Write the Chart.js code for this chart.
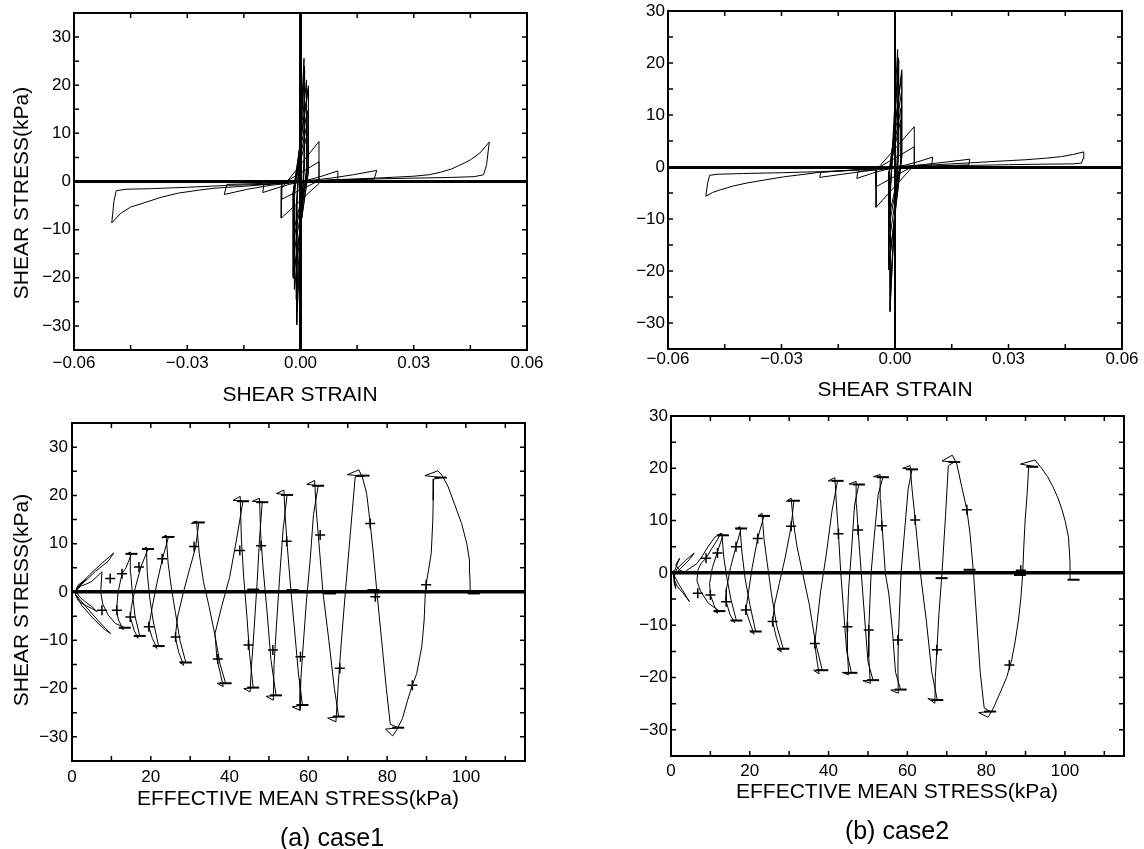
<!DOCTYPE html>
<html><head><meta charset="utf-8">
<script src="https://cdn.jsdelivr.net/npm/chart.js@4.4.1/dist/chart.umd.min.js"></script>
<style>
html,body{margin:0;padding:0;background:#fff;}
body{width:1144px;height:849px;position:relative;overflow:hidden;font-family:"Liberation Sans",Arial,sans-serif;color:#000;}
canvas{position:absolute;}
.t{position:absolute;white-space:nowrap;transform:translate(-50%,-50%);font-size:21px;line-height:1;}
.ty{transform:translate(-50%,-50%) rotate(-90deg);}
.cap{font-size:25px;}
</style></head><body>
<canvas id="c1" width="572" height="440" style="left:0;top:-20px"></canvas>
<canvas id="c2" width="572" height="440" style="left:572px;top:-20px"></canvas>
<canvas id="c3" width="572" height="449" style="left:0;top:400px"></canvas>
<canvas id="c4" width="572" height="449" style="left:572px;top:400px"></canvas>
<div class="t" style="left:300px;top:393px">SHEAR STRAIN</div>
<div class="t" style="left:895px;top:388px">SHEAR STRAIN</div>
<div class="t" style="left:298px;top:797px">EFFECTIVE MEAN STRESS(kPa)</div>
<div class="t" style="left:897px;top:790px">EFFECTIVE MEAN STRESS(kPa)</div>
<div class="t ty" style="left:20px;top:193px">SHEAR STRESS(kPa)</div>
<div class="t ty" style="left:20px;top:600px">SHEAR STRESS(kPa)</div>
<div class="t cap" style="left:332px;top:837px">(a) case1</div>
<div class="t cap" style="left:897px;top:830px">(b) case2</div>
<script>
// ---------- tick labels ----------
const STRAIN_TICKS = [-0.06, -0.03, 0, 0.03, 0.06];
const STRAIN_MARKS = [-0.045, -0.03, -0.015, 0, 0.015, 0.03, 0.045];
const P_TICKS = [0, 20, 40, 60, 80, 100];
const P_MARKS = [10, 20, 30, 40, 50, 60, 70, 80, 90, 100, 110];
const TAU_TICKS = [-30, -20, -10, 0, 10, 20, 30];
const TAU_MARKS = [-30, -25, -20, -15, -10, -5, 0, 5, 10, 15, 20, 25, 30];

// ---------- case 1 : shear strain vs shear stress ----------
const SS1_A1 = [[0.00093,25.6],[-0.0010,-6.0],[-0.0010,-29.8],[0.00093,5.0],[0.00093,25.6]];
const SS1_A2 = [[0.0010,24.0],[-0.0010,-5.0],[-0.0010,-26.9],[0.0010,4.0],[0.0010,24.0]];
const SS1_A3 = [[0.0011,23.1],[-0.0011,-5.0],[-0.0011,-24.5],[0.0011,4.0],[0.0011,23.1]];
const SS1_B1 = [[0.0016,21.1],[-0.0016,-3.0],[-0.0016,-22.4],[0.0016,3.0],[0.0016,21.1]];
const SS1_B2 = [[0.0021,19.9],[-0.0019,-2.4],[-0.0019,-20.1],[0.0021,2.3],[0.0021,19.9]];
const SS1_B3 = [[0.0021,19.4],[-0.0019,-2.0],[-0.0019,-19.6],[0.0021,2.0],[0.0021,19.4]];
const SS1_C1 = [[0.0018,14.7],[-0.0018,-1.5],[-0.0018,-15.2],[0.0018,1.5],[0.0018,14.7]];
const SS1_C2 = [[0.0017,11.8],[-0.0017,-1.2],[-0.0017,-11.7],[0.0017,1.2],[0.0017,11.8]];
const SS1_C3 = [[0.0016,9.3],[-0.0016,-0.8],[-0.0016,-9.6],[0.0016,0.8],[0.0016,9.3]];
const SS1_D1 = [[0.0049,8.3],[-0.0050,-1.4],[-0.0051,-7.6],[0.0049,-0.4],[0.0049,8.3]];
const SS1_D2 = [[0.0049,4.1],[-0.0050,-0.6],[-0.0050,-3.7],[0.0049,0.2],[0.0049,4.1]];
const SS1_E = [[0.0099,2.2],[0.006,1.2],[0.003,0.5],[0.0,0.0],[-0.006,-0.4],[-0.0097,-0.6],[-0.0100,-2.3],[-0.006,-1.3],[-0.003,-0.6],[0.0,-0.1],[0.006,0.2],[0.0097,0.4],[0.0099,2.2]];
const SS1_F = [[0.0202,2.3],[0.014,1.4],[0.008,0.7],[0.0,0.0],[-0.010,-0.4],[-0.0195,-0.6],[-0.0202,-2.7],[-0.014,-1.6],[-0.008,-0.8],[0.0,-0.1],[0.010,0.3],[0.0195,0.5],[0.0202,2.3]];
const SS1_G = [[0.0,0.1],[0.01,0.35],[0.02,0.55],[0.03,0.7],[0.04,0.85],[0.046,1.0],[0.0485,1.4],[0.0493,3.5],[0.0500,8.2],[0.0475,5.9],[0.045,4.5],[0.0433,3.8],[0.040,2.6],[0.037,1.9],[0.034,1.4],[0.030,1.1],[0.025,0.9],[0.020,0.7],[0.010,0.4],[0.0,-0.1],[-0.010,-0.6],[-0.019,-0.8],[-0.030,-1.2],[-0.040,-1.5],[-0.046,-1.6],[-0.0488,-1.9],[-0.0494,-4.0],[-0.0500,-8.6],[-0.0476,-6.6],[-0.045,-5.3],[-0.0417,-4.5],[-0.037,-3.3],[-0.0323,-2.4],[-0.027,-1.8],[-0.0229,-1.4],[-0.0134,-0.9],[-0.006,-0.4],[0.0,0.1]];

// ---------- case 2 : shear strain vs shear stress ----------
const SS2_A1 = [[0.0007,22.6],[-0.0013,-5.0],[-0.0013,-27.8],[0.0007,4.0],[0.0007,22.6]];
const SS2_A2 = [[0.0009,21.0],[-0.0012,-4.5],[-0.0012,-25.0],[0.0009,3.5],[0.0009,21.0]];
const SS2_A3 = [[0.0010,20.5],[-0.0012,-4.0],[-0.0012,-23.0],[0.0010,3.0],[0.0010,20.5]];
const SS2_B1 = [[0.0018,18.7],[-0.0017,-2.2],[-0.0017,-19.8],[0.0018,2.0],[0.0018,18.7]];
const SS2_B2 = [[0.0018,18.0],[-0.0017,-2.0],[-0.0017,-19.0],[0.0018,2.0],[0.0018,18.0]];
const SS2_C1 = [[0.0017,14.3],[-0.0017,-1.5],[-0.0017,-15.1],[0.0017,1.5],[0.0017,14.3]];
const SS2_C2 = [[0.0016,11.4],[-0.0016,-1.2],[-0.0016,-11.5],[0.0016,1.2],[0.0016,11.4]];
const SS2_C3 = [[0.0015,9.0],[-0.0015,-0.8],[-0.0015,-9.3],[0.0015,0.8],[0.0015,9.0]];
const SS2_D1 = [[0.0051,7.75],[-0.0050,-0.6],[-0.0050,-7.75],[0.0051,0.4],[0.0051,7.75]];
const SS2_D2 = [[0.0051,3.9],[-0.0050,-0.4],[-0.0050,-3.8],[0.0051,0.3],[0.0051,3.9]];
const SS2_E = [[0.00995,1.9],[0.006,1.0],[0.003,0.4],[0.0,0.0],[-0.006,-0.5],[-0.0098,-0.9],[-0.0101,-2.2],[-0.006,-1.2],[-0.003,-0.6],[0.0,-0.1],[0.006,0.2],[0.0097,0.4],[0.00995,1.9]];
const SS2_F = [[0.0198,1.5],[0.014,1.0],[0.008,0.5],[0.0,0.0],[-0.010,-0.6],[-0.0196,-1.0],[-0.0199,-2.0],[-0.014,-1.4],[-0.008,-0.8],[0.0,-0.2],[0.010,0.2],[0.0195,0.4],[0.0198,1.5]];
const SS2_G = [[0.0,0.0],[0.01,0.15],[0.02,0.3],[0.03,0.45],[0.04,0.55],[0.047,0.6],[0.0493,0.75],[0.0497,1.6],[0.0499,2.9],[0.047,2.4],[0.044,2.0],[0.040,1.7],[0.0346,1.4],[0.027,1.1],[0.0199,0.8],[0.010,0.4],[0.0,0.0],[-0.010,-0.6],[-0.020,-0.9],[-0.030,-1.1],[-0.040,-1.25],[-0.047,-1.4],[-0.049,-1.6],[-0.0495,-3.0],[-0.0500,-5.6],[-0.0482,-4.9],[-0.0462,-4.4],[-0.043,-3.7],[-0.0393,-3.1],[-0.0345,-2.5],[-0.0295,-1.9],[-0.0196,-1.0],[-0.010,-0.5],[0.0,0.0]];

// ---------- case 1 : effective stress path ----------
const SP1_PATH = [[101.1,0.0],[101.0,3.5],[100.9,6.6],[100.2,10.1],[98.9,14.2],[97.2,18.0],[95.5,21.8],[93.9,24.2],[92.9,25.1],[89.6,24.1],[93.6,23.7],
[91.8,23.4],[91.7,19.0],[91.6,14.9],[91.2,8.0],[90.1,2.5],[89.7,0.0],[89.4,-5.8],[88.8,-11.3],[87.5,-16.9],[86.4,-19.3],[85.2,-22.4],[83.9,-26.2],[82.4,-28.6],[81.4,-29.8],[79.6,-28.4],[82.8,-28.1],
[80.8,-27.4],[79.8,-20.0],[78.6,-10.0],[77.4,0.0],[76.5,8.0],[75.7,14.2],[74.8,20.4],[73.7,23.8],[72.8,25.3],[69.9,24.3],[74.0,24.0],
[71.9,23.9],[70.7,12.5],[69.5,1.0],[68.4,-10.0],[67.6,-19.0],[67.0,-26.9],[64.9,-26.1],[67.7,-25.8],
[66.6,-20.0],[65.2,-10.0],[63.7,0.0],[62.7,10.0],[62.0,17.0],[61.6,23.1],[59.6,22.3],[62.5,22.0],
[61.3,16.0],[60.5,7.0],[59.5,-2.0],[58.7,-11.0],[58.1,-18.0],[57.9,-24.5],[55.9,-23.8],[58.5,-23.4],
[57.5,-17.0],[56.4,-7.0],[55.5,1.0],[54.6,10.0],[54.1,16.0],[53.8,21.1],[51.9,20.4],[54.6,20.1],
[53.6,13.0],[52.7,3.0],[51.9,-7.0],[51.3,-15.0],[51.1,-22.4],[49.3,-21.6],[51.8,-21.4],
[50.5,-14.0],[49.5,-4.0],[48.5,5.0],[47.9,12.0],[47.6,19.4],[45.8,18.8],[48.3,18.6],
[47.6,11.0],[47.0,2.0],[46.2,-8.0],[45.6,-15.0],[45.2,-20.7],[43.6,-20.0],[46.0,-19.8],
[45.1,-13.0],[44.4,-5.0],[43.6,3.0],[43.0,11.0],[42.7,19.8],[40.9,19.0],[43.4,18.8],
[41.8,11.0],[40.0,3.0],[38.0,-3.0],[36.3,-8.6],[36.8,-13.9],[37.7,-17.0],[38.4,-19.6],[36.8,-18.9],[39.0,-18.9],
[37.6,-15.0],[36.3,-9.0],[34.8,-3.0],[33.4,2.0],[32.3,8.0],[31.6,14.7],[30.3,14.2],[32.2,14.4],
[31.4,9.3],[29.6,4.0],[28.3,0.0],[26.8,-5.2],[26.2,-9.3],[27.1,-12.5],[28.4,-15.2],[27.3,-14.5],[28.9,-14.6],
[27.4,-10.0],[26.2,-4.0],[25.2,1.0],[24.4,6.0],[23.9,11.8],[22.8,11.2],[24.5,11.4],
[23.0,7.0],[21.6,2.0],[20.4,-3.0],[19.5,-7.2],[20.4,-9.6],[21.6,-11.7],[20.6,-11.0],[22.0,-11.2],
[20.6,-6.0],[19.7,-1.0],[19.1,4.0],[18.9,9.3],[18.0,8.8],[19.3,8.9],
[17.5,5.2],[16.1,1.0],[15.1,-3.0],[14.8,-5.2],[15.8,-8.0],[16.8,-9.6],[16.0,-9.0],[17.2,-9.1],
[16.0,-5.0],[15.3,0.0],[14.9,4.0],[14.8,8.3],[14.0,7.9],[15.1,7.9],
[13.7,5.0],[12.7,3.8],[11.7,0.0],[11.3,-3.8],[11.8,-5.8],[13.0,-7.8],[12.2,-7.3],[13.4,-7.4],
[11.0,-6.5],[9.2,-4.8],[7.8,-2.5],[7.3,0.0],[7.6,4.2],[6.5,3.3],[5.0,2.2],[3.5,1.6],[2.2,1.2],[1.2,0.4],[0.9,-0.6],[1.6,-1.8],[3.0,-2.6],[5.0,-3.4],[6.4,-4.1],[5.0,-3.0],[3.2,-1.9],[1.8,-0.9],[1.0,0.2],[1.5,1.4],[2.8,2.2],[3.6,2.6],[2.2,1.6],[1.0,0.3],
[1.3,0.9],[4.5,3.6],[7.5,5.9],[10.6,8.1],[9.2,6.4],[6.0,4.3],[3.0,2.0],[1.2,0.6],[0.9,-0.5],[3.5,-3.0],[6.6,-5.9],[9.8,-8.6],[8.5,-7.9],[5.5,-5.6],[2.5,-2.8],[1.0,-0.6]];
const SP1_CROSS = [[75.7,14.2],[86.4,-19.3],[68.0,-15.8],[63.0,11.8],[58.0,-13.4],[54.5,10.5],[51.0,-12.0],[48.0,9.6],[44.8,-11.0],[42.6,8.6],[37.0,-13.9],[31.0,9.4],[26.3,-9.3],[22.9,6.9],[19.5,-7.2],[17.0,5.2],[14.8,-5.2],[12.7,3.8],[11.4,-3.8],[9.7,2.8],[7.6,-3.8],[89.9,1.5],[77.0,-1.0]];
const SP1_BAR = [[93.6,23.7],[74.0,24.1],[62.5,22.0],[54.6,20.1],[48.3,18.6],[43.4,18.8],[32.2,14.4],[24.5,11.4],[19.3,8.9],[15.1,7.9],[82.8,-28.1],[67.7,-25.8],[58.5,-23.4],[51.8,-21.4],[46.0,-19.8],[39.0,-18.9],[28.9,-14.6],[22.0,-11.2],[17.2,-9.1],[13.4,-7.4],[102.0,-0.3],[76.5,0.4],[65.5,-0.3],[56.0,0.4],[46.0,0.5]];

// ---------- case 2 : effective stress path ----------
const SP2_PATH = [[101.3,-1.3],[101.3,2.0],[100.9,6.9],[100.1,9.8],[99.3,12.0],[98.3,14.2],[97.0,16.4],[95.6,18.4],[94.1,20.0],[92.4,21.6],[88.7,20.8],[92.7,20.3],
[90.8,20.3],[90.4,15.0],[89.9,10.1],[89.5,4.0],[89.3,0.0],[88.8,-5.0],[88.2,-9.0],[87.4,-13.0],[86.5,-16.6],[85.2,-20.0],[83.5,-23.0],[81.8,-25.9],[80.5,-27.6],[78.1,-26.7],[81.0,-26.5],
[79.5,-25.8],[78.5,-19.0],[77.6,-9.0],[76.8,0.0],[75.9,7.6],[75.1,12.1],[73.8,16.5],[72.5,21.0],[71.4,22.5],[68.8,21.4],[71.9,21.2],
[70.4,20.5],[69.7,11.0],[68.8,0.0],[68.0,-8.0],[67.5,-14.7],[67.1,-20.0],[67.0,-24.9],[65.2,-24.0],[67.6,-24.3],
[66.2,-19.0],[64.8,-9.0],[63.3,0.0],[62.0,10.1],[61.2,16.0],[60.7,20.5],[58.8,20.0],[61.2,19.8],
[60.2,16.0],[59.3,8.0],[58.4,0.0],[57.7,-12.8],[57.6,-18.0],[57.7,-23.0],[55.8,-22.4],[58.3,-22.3],
[57.0,-19.0],[56.2,-11.0],[55.3,-4.0],[54.4,0.0],[53.6,9.0],[53.2,14.0],[53.1,18.8],[51.4,18.4],[53.8,18.3],
[52.6,15.0],[51.6,7.0],[50.8,0.0],[50.2,-10.9],[50.2,-16.0],[50.6,-21.1],[48.7,-20.6],[51.3,-20.5],
[50.0,-17.0],[49.2,-9.0],[48.3,0.0],[47.5,8.2],[47.1,13.0],[47.0,17.5],[45.2,17.0],[47.7,16.9],
[46.6,13.0],[45.8,4.0],[45.1,-3.0],[44.7,-10.3],[44.8,-15.0],[45.1,-19.5],[43.4,-19.0],[45.8,-19.1],
[44.6,-15.0],[43.8,-7.0],[43.1,0.0],[42.5,7.6],[42.0,13.0],[41.6,18.2],[39.9,17.6],[42.3,17.6],
[40.9,12.0],[39.5,4.0],[37.9,-4.0],[36.5,-13.5],[37.0,-16.5],[37.6,-19.3],[36.2,-18.6],[38.4,-18.6],
[36.6,-13.0],[35.1,-6.0],[33.4,0.0],[32.0,5.0],[31.0,10.0],[30.5,14.3],[29.3,13.7],[31.2,13.8],
[30.5,8.9],[29.0,3.0],[27.5,-2.0],[26.3,-6.0],[25.8,-9.3],[26.8,-12.5],[28.0,-15.1],[26.9,-14.5],[28.5,-14.5],
[26.8,-10.0],[25.5,-4.0],[24.4,2.0],[23.6,6.6],[23.1,11.4],[22.1,10.9],[23.6,10.9],
[22.0,6.6],[20.6,1.0],[19.6,-4.0],[19.0,-7.1],[20.0,-9.5],[21.1,-11.7],[20.1,-11.1],[21.5,-11.2],
[20.0,-6.0],[18.8,-1.0],[18.0,4.0],[17.5,8.9],[16.6,8.4],[17.8,8.5],
[16.5,5.0],[15.1,1.0],[14.1,-3.0],[14.0,-5.5],[15.0,-8.0],[16.2,-9.5],[15.4,-9.0],[16.6,-9.1],
[15.2,-5.0],[14.2,-1.0],[13.4,3.0],[12.9,7.6],[12.0,7.1],[13.2,7.2],
[12.0,4.5],[10.5,1.0],[9.8,-2.0],[10.0,-4.2],[11.0,-6.3],[11.9,-7.7],[11.0,-7.3],[12.3,-7.3],
[9.5,-5.8],[7.5,-3.5],[6.6,-1.5],[6.8,0.5],[7.6,1.8],[8.9,2.8],[10.3,4.6],[11.8,6.4],[12.7,7.6],[11.2,6.9],[9.4,5.0],[8.0,3.3],[6.6,1.8],
[5.0,1.0],[3.5,0.2],[2.2,0.5],[1.2,1.5],[2.2,2.8],[1.0,0.6],[0.6,-0.8],[1.5,-2.5],[3.0,-3.8],[4.7,-5.5],[3.5,-4.0],[2.0,-2.2],[0.8,-0.5],[1.5,0.8],[3.7,2.4],[5.9,3.8],[4.6,2.5],[2.5,0.9],[1.0,-0.3],[0.7,-1.5],[1.2,-3.0],[0.8,-1.0],[0.6,0.5]];
const SP2_CROSS = [[75.1,12.1],[85.9,-17.6],[67.5,-14.7],[62.0,10.1],[57.6,-12.8],[53.5,9.0],[50.2,-10.9],[47.5,8.2],[44.8,-10.3],[42.5,7.5],[36.5,-13.5],[30.5,8.9],[25.8,-9.3],[22.0,6.6],[19.0,-7.1],[16.5,5.0],[14.0,-5.5],[11.8,3.8],[10.0,-4.2],[8.9,2.8],[6.8,-3.9],[88.8,0.5]];
const SP2_BAR = [[91.7,20.3],[71.9,21.2],[61.2,19.8],[53.8,18.3],[47.7,16.9],[42.3,17.6],[31.2,13.8],[23.6,10.9],[17.8,8.5],[13.2,7.2],[81.0,-26.5],[67.6,-24.3],[58.3,-22.3],[51.3,-20.5],[45.8,-19.1],[38.4,-18.6],[28.5,-14.5],[21.5,-11.2],[16.6,-9.1],[12.3,-7.3],[102.2,-1.3],[88.6,-0.4],[75.8,0.6],[68.7,-1.0]];

// ---------- drawing ----------
const BLACK = '#000';
Chart.defaults.font.family = '"Liberation Sans", Arial, sans-serif';
Chart.defaults.font.size = 17;
Chart.defaults.color = BLACK;

function lineDs(pts, w) {
  return { data: pts.map(([x, y]) => ({x, y})), showLine: true, borderColor: BLACK,
    borderWidth: w || 1, pointRadius: 0, pointHoverRadius: 0, tension: 0, fill: false };
}
function markDs(pts, style, r, w) {
  return { data: pts.map(([x, y]) => ({x, y})), showLine: false, pointStyle: style,
    pointRadius: r, pointHoverRadius: r, pointBorderWidth: w, borderColor: BLACK,
    pointBorderColor: BLACK, backgroundColor: BLACK };
}
const fmtNum = d => v => (Math.abs(v) < 1e-9 ? (0).toFixed(d) : (v < 0 ? '\u2212' : '') + Math.abs(v).toFixed(d));

const frameTicks = {
  id: 'frameTicks',
  afterDraw(chart, args, o) {
    const {ctx, chartArea: a, scales: {x, y}} = chart;
    ctx.save();
    ctx.strokeStyle = BLACK;
    ctx.lineWidth = 1.5;
    const L = 5;
    ctx.beginPath();
    o.xMarks.forEach(v => { const px = x.getPixelForValue(v);
      ctx.moveTo(px, a.bottom); ctx.lineTo(px, a.bottom - L);
      ctx.moveTo(px, a.top); ctx.lineTo(px, a.top + L); });
    o.yMarks.forEach(v => { const py = y.getPixelForValue(v);
      ctx.moveTo(a.left, py); ctx.lineTo(a.left + L, py);
      ctx.moveTo(a.right, py); ctx.lineTo(a.right - L, py); });
    ctx.stroke();
    ctx.lineWidth = 2;
    ctx.strokeRect(a.left, a.top, a.right - a.left, a.bottom - a.top);
    ctx.restore();
  }
};

function makeChart(id, o) {
  const zero = w => ({
    drawTicks: false,
    color: c => (w && c.tick && c.tick.value === 0) ? BLACK : 'rgba(0,0,0,0)',
    lineWidth: c => (w && c.tick && c.tick.value === 0) ? w : 0
  });
  return new Chart(document.getElementById(id), {
    type: 'scatter',
    data: { datasets: o.datasets },
    options: {
      responsive: false, animation: false, devicePixelRatio: 1,
      layout: { padding: o.pad },
      events: [],
      plugins: { legend: {display: false}, tooltip: {enabled: false},
        frameTicks: { xMarks: o.xMarks, yMarks: o.yMarks } },
      scales: {
        x: { type: 'linear', min: o.xMin, max: o.xMax,
          afterBuildTicks: a => { a.ticks = o.xTicks.map(v => ({value: v})); },
          afterFit: a => { a.height = o.xH; },
          ticks: { padding: o.xPad, maxRotation: 0, autoSkip: false, callback: o.xFmt, color: BLACK },
          grid: zero(o.zeroX), border: { display: false } },
        y: { type: 'linear', min: o.yMin, max: o.yMax,
          afterBuildTicks: a => { a.ticks = o.yTicks.map(v => ({value: v})); },
          afterFit: a => { a.width = o.yW; },
          ticks: { padding: o.yPad, autoSkip: false, callback: fmtNum(0), color: BLACK },
          grid: zero(o.zeroY), border: { display: false } }
      }
    },
    plugins: [frameTicks]
  });
}

const ss1 = [SS1_G, SS1_F, SS1_E, SS1_D2, SS1_D1, SS1_C3, SS1_C2, SS1_C1, SS1_B3, SS1_B2, SS1_B1, SS1_A3, SS1_A2, SS1_A1].map(p => lineDs(p));
const ss2 = [SS2_G, SS2_F, SS2_E, SS2_D2, SS2_D1, SS2_C3, SS2_C2, SS2_C1, SS2_B2, SS2_B1, SS2_A3, SS2_A2, SS2_A1].map(p => lineDs(p));

makeChart('c1', { datasets: ss1, xMin: -0.06, xMax: 0.06, yMin: -35, yMax: 35,
  xTicks: STRAIN_TICKS, yTicks: TAU_TICKS, xMarks: STRAIN_MARKS, yMarks: TAU_MARKS,
  xFmt: fmtNum(2), pad: {left: 0, top: 33, right: 45, bottom: 0}, yW: 74, xH: 70,
  xPad: 3, yPad: 3, zeroX: 3, zeroY: 3 });
makeChart('c2', { datasets: ss2, xMin: -0.06, xMax: 0.06, yMin: -35, yMax: 30,
  xTicks: STRAIN_TICKS, yTicks: TAU_TICKS, xMarks: STRAIN_MARKS, yMarks: TAU_MARKS,
  xFmt: fmtNum(2), pad: {left: 0, top: 31, right: 22, bottom: 0}, yW: 96, xH: 71,
  xPad: 0, yPad: 3, zeroX: 2, zeroY: 3 });
makeChart('c3', { datasets: [lineDs(SP1_PATH), markDs(SP1_CROSS, 'cross', 5, 1.5), markDs(SP1_BAR, 'line', 6, 2)],
  xMin: 0, xMax: 115, yMin: -35, yMax: 35,
  xTicks: P_TICKS, yTicks: TAU_TICKS, xMarks: P_MARKS, yMarks: TAU_MARKS,
  xFmt: fmtNum(0), pad: {left: 0, top: 23, right: 47, bottom: 0}, yW: 72, xH: 88,
  xPad: 6, yPad: 4, zeroX: 0, zeroY: 3.5 });
makeChart('c4', { datasets: [lineDs(SP2_PATH), markDs(SP2_CROSS, 'cross', 5, 1.5), markDs(SP2_BAR, 'line', 6, 2)],
  xMin: 0, xMax: 115, yMin: -35, yMax: 30,
  xTicks: P_TICKS, yTicks: TAU_TICKS, xMarks: P_MARKS, yMarks: TAU_MARKS,
  xFmt: fmtNum(0), pad: {left: 0, top: 16, right: 20, bottom: 0}, yW: 99, xH: 93,
  xPad: 5, yPad: 3, zeroX: 0, zeroY: 3.5 });
</script>
</body></html>
